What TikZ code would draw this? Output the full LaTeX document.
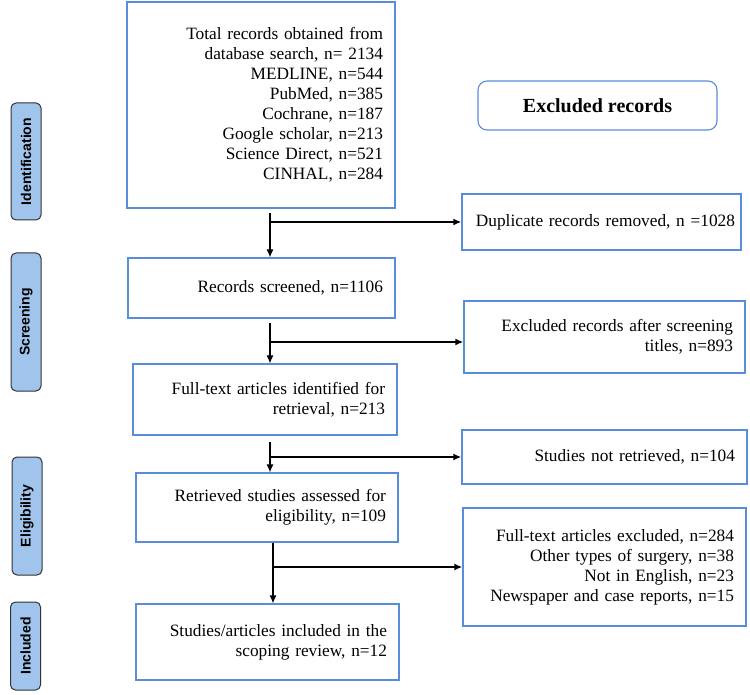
\documentclass[tikz,border=0pt]{standalone}
\usepackage{fontspec}
\setmainfont{Liberation Serif}
\setsansfont{Liberation Sans}
\usetikzlibrary{arrows.meta}

\definecolor{boxblue}{RGB}{90,140,220}
\definecolor{tabfill}{RGB}{160,196,235}
\definecolor{tabline}{RGB}{50,50,55}

\begin{document}
\begin{tikzpicture}[x=1pt,y=-1pt,
    box/.style={draw=boxblue, line width=1.3pt, inner sep=0pt, align=right,
      font=\fontsize{17.3}{20}\selectfont},
    stage/.style={draw=tabline, fill=tabfill, line width=1pt, rounded corners=5pt,
      rotate=90, inner sep=0pt, font=\sffamily\bfseries\fontsize{14}{16}\selectfont},
    arr/.style={-{Latex[length=8pt,width=7pt]}, line width=1.1pt},
    branch/.style={-{Latex[length=8pt,width=7pt]}, line width=1.8pt}]

    \useasboundingbox (0,0) rectangle (750,695);

    % Stage tabs on the left
    \node[stage, minimum width=117pt, minimum height=30pt] (ident) at (26,161.5) {Identification};
    \node[stage, minimum width=138pt, minimum height=30pt] (screen) at (26,322) {Screening};
    \node[stage, minimum width=118pt, minimum height=30pt] (elig) at (27,516) {Eligibility};
    \node[stage, minimum width=88pt, minimum height=30pt] (incl) at (25.5,646) {Included};

    % Main column
    \node[box, minimum width=268pt, minimum height=206pt, text width=244pt] (total) at (261,105)
      {Total records obtained from\\database search, n= 2134\\MEDLINE, n=544\\PubMed, n=385\\Cochrane, n=187\\Google scholar, n=213\\Science Direct, n=521\\CINHAL, n=284};
    \node[box, minimum width=267pt, minimum height=60pt, text width=243pt] (screened) at (261.5,288)
      {Records screened, n=1106};
    \node[box, minimum width=264pt, minimum height=71pt, text width=240pt] (fulltext) at (265,399.5)
      {Full-text articles identified for\\retrieval, n=213};
    \node[box, minimum width=262pt, minimum height=69pt, text width=238pt] (assessed) at (267,507.5)
      {Retrieved studies assessed for\\eligibility, n=109};
    \node[box, minimum width=263pt, minimum height=76pt, text width=239pt] (included) at (267.5,642)
      {Studies/articles included in the\\scoping review, n=12};

    % Excluded column
    \node[draw=boxblue, line width=1.1pt, rounded corners=9pt, minimum width=239pt, minimum height=49pt,
      font=\bfseries\fontsize{20}{24}\selectfont] (exhead) at (597.5,105.5) {Excluded records};
    \node[box, minimum width=279pt, minimum height=56pt, text width=267pt] (dup) at (601.5,222)
      {Duplicate records removed, n =1028};
    \node[box, minimum width=281pt, minimum height=72pt, text width=257pt] (exscr) at (604.5,337)
      {Excluded records after screening\\titles, n=893};
    \node[box, minimum width=285pt, minimum height=54pt, text width=261pt] (notret) at (604.5,457)
      {Studies not retrieved, n=104};
    \node[box, minimum width=283pt, minimum height=118pt, text width=259pt] (ftex) at (604.5,567)
      {Full-text articles excluded, n=284\\Other types of surgery, n=38\\Not in English, n=23\\Newspaper and case reports, n=15};

    % Down arrows and side branches
    \coordinate (v1) at (270,0);
    \coordinate (v4) at (273,0);

    \draw[arr, shorten <=4pt] (total.south -| v1) -- (screened.north -| v1);
    \draw[branch] (dup.west -| v1) -- (dup.west);

    \draw[arr, shorten <=4pt] (screened.south -| v1) -- (fulltext.north -| v1);
    \draw[branch] ([yshift=-5pt]exscr.west -| v1) -- ([yshift=-5pt]exscr.west);

    \draw[arr, shorten <=6pt] (fulltext.south -| v1) -- (assessed.north -| v1);
    \draw[branch] (notret.west -| v1) -- (notret.west);

    \draw[arr] (assessed.south -| v4) -- (included.north -| v4);
    \draw[branch] (ftex.west -| v4) -- (ftex.west);

\end{tikzpicture}
\end{document}
